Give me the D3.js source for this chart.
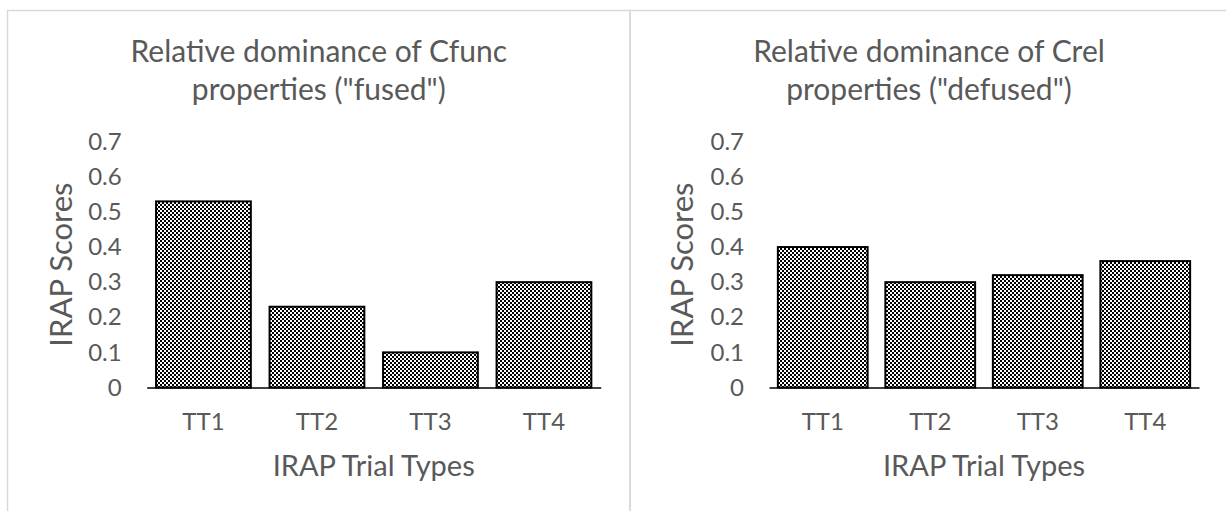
<!DOCTYPE html>
<html>
<head>
<meta charset="utf-8">
<script src="https://cdn.jsdelivr.net/npm/d3@7"></script>
<style>
  html, body { margin: 0; padding: 0; background: #fff; }
  svg text { font-family: Lato, "Open Sans", sans-serif; fill: #595959; }
</style>
</head>
<body>
<div id="chart"></div>
<script>
// Data
const trialTypes = ["TT1", "TT2", "TT3", "TT4"];
const fusedScores = [0.53, 0.23, 0.10, 0.30];
const defusedScores = [0.40, 0.30, 0.32, 0.36];
const yTicks = [0, 0.1, 0.2, 0.3, 0.4, 0.5, 0.6, 0.7];
const fusedTitle = ["Relative dominance of Cfunc", "properties (\"fused\")"];
const defusedTitle = ["Relative dominance of Crel", "properties (\"defused\")"];
const yLabel = "IRAP Scores";
const xLabel = "IRAP Trial Types";

const width = 1226;
const height = 511;

const svg = d3.select("#chart").append("svg")
  .attr("width", width)
  .attr("height", height);

// small checkerboard fill, like the Excel pattern
const pattern = svg.append("defs").append("pattern")
  .attr("id", "checker")
  .attr("width", 4)
  .attr("height", 4)
  .attr("patternUnits", "userSpaceOnUse");
pattern.append("rect").attr("width", 4).attr("height", 4).attr("fill", "#fff");
pattern.append("rect").attr("width", 2).attr("height", 2).attr("fill", "#000");
pattern.append("rect").attr("x", 2).attr("y", 2).attr("width", 2).attr("height", 2).attr("fill", "#000");

function drawPanel(values, title, frame, plot) {
  const g = svg.append("g");

  // chart area border
  g.append("rect")
    .attr("x", frame.x0)
    .attr("y", frame.y0)
    .attr("width", frame.x1 - frame.x0)
    .attr("height", frame.y1 - frame.y0)
    .attr("fill", "none")
    .attr("stroke", "#d9d9d9")
    .attr("stroke-width", 1.5);

  const x = d3.scaleBand()
    .domain(trialTypes)
    .range([plot.left, plot.right])
    .paddingInner(0.165)
    .paddingOuter(0.0825);

  const y = d3.scaleLinear()
    .domain([0, 0.7])
    .range([plot.bottom, plot.top]);

  // title, centred on the chart area
  const cx = (frame.x0 + frame.x1) / 2;
  g.append("text")
    .attr("x", cx)
    .attr("y", 62)
    .attr("text-anchor", "middle")
    .style("font-size", "30px")
    .selectAll("tspan")
    .data(title)
    .join("tspan")
    .attr("x", cx)
    .attr("dy", (d, i) => (i === 0 ? 0 : 38))
    .text((d) => d);

  // y axis: labels only
  const yAxis = g.append("g")
    .attr("transform", `translate(${plot.left},0)`)
    .call(d3.axisLeft(y).tickValues(yTicks).tickFormat((d) => (d === 0 ? "0" : d3.format(".1f")(d))).tickSize(0).tickPadding(25));
  yAxis.select(".domain").remove();
  yAxis.attr("font-family", null).attr("font-size", null);
  yAxis.selectAll("text")
    .style("font-size", "24px")
    .attr("fill", null);

  // bars
  g.selectAll("rect.bar")
    .data(values)
    .join("rect")
    .attr("class", "bar")
    .attr("x", (d, i) => x(trialTypes[i]))
    .attr("y", (d) => y(d))
    .attr("width", x.bandwidth())
    .attr("height", (d) => y(0) - y(d))
    .attr("fill", "url(#checker)")
    .attr("stroke", "#000")
    .attr("stroke-width", 2);

  // x axis with black baseline
  const xAxis = g.append("g")
    .attr("transform", `translate(0,${plot.bottom})`)
    .call(d3.axisBottom(x).tickSize(0).tickSizeOuter(0).tickPadding(25.5));
  xAxis.select(".domain").attr("stroke", "#000").attr("stroke-width", 1.5);
  xAxis.attr("font-family", null).attr("font-size", null);
  xAxis.selectAll("text")
    .style("font-size", "24px")
    .attr("fill", null);

  // axis titles
  g.append("text")
    .attr("x", (plot.left + plot.right) / 2)
    .attr("y", 476)
    .attr("text-anchor", "middle")
    .style("font-size", "29px")
    .text(xLabel);

  g.append("text")
    .attr("transform", `translate(${plot.yTitleX},${(plot.top + plot.bottom) / 2}) rotate(-90)`)
    .attr("text-anchor", "middle")
    .style("font-size", "31px")
    .text(yLabel);
}

drawPanel(fusedScores, fusedTitle,
  { x0: 7.5, y0: 10.5, x1: 630, y1: 530 },
  { left: 146.7, right: 600.7, top: 141.7, bottom: 387.5, yTitleX: 72 });

drawPanel(defusedScores, defusedTitle,
  { x0: 630, y0: 10.5, x1: 1228, y1: 530 },
  { left: 769, right: 1199, top: 141.7, bottom: 387.5, yTitleX: 693 });
</script>
</body>
</html>
